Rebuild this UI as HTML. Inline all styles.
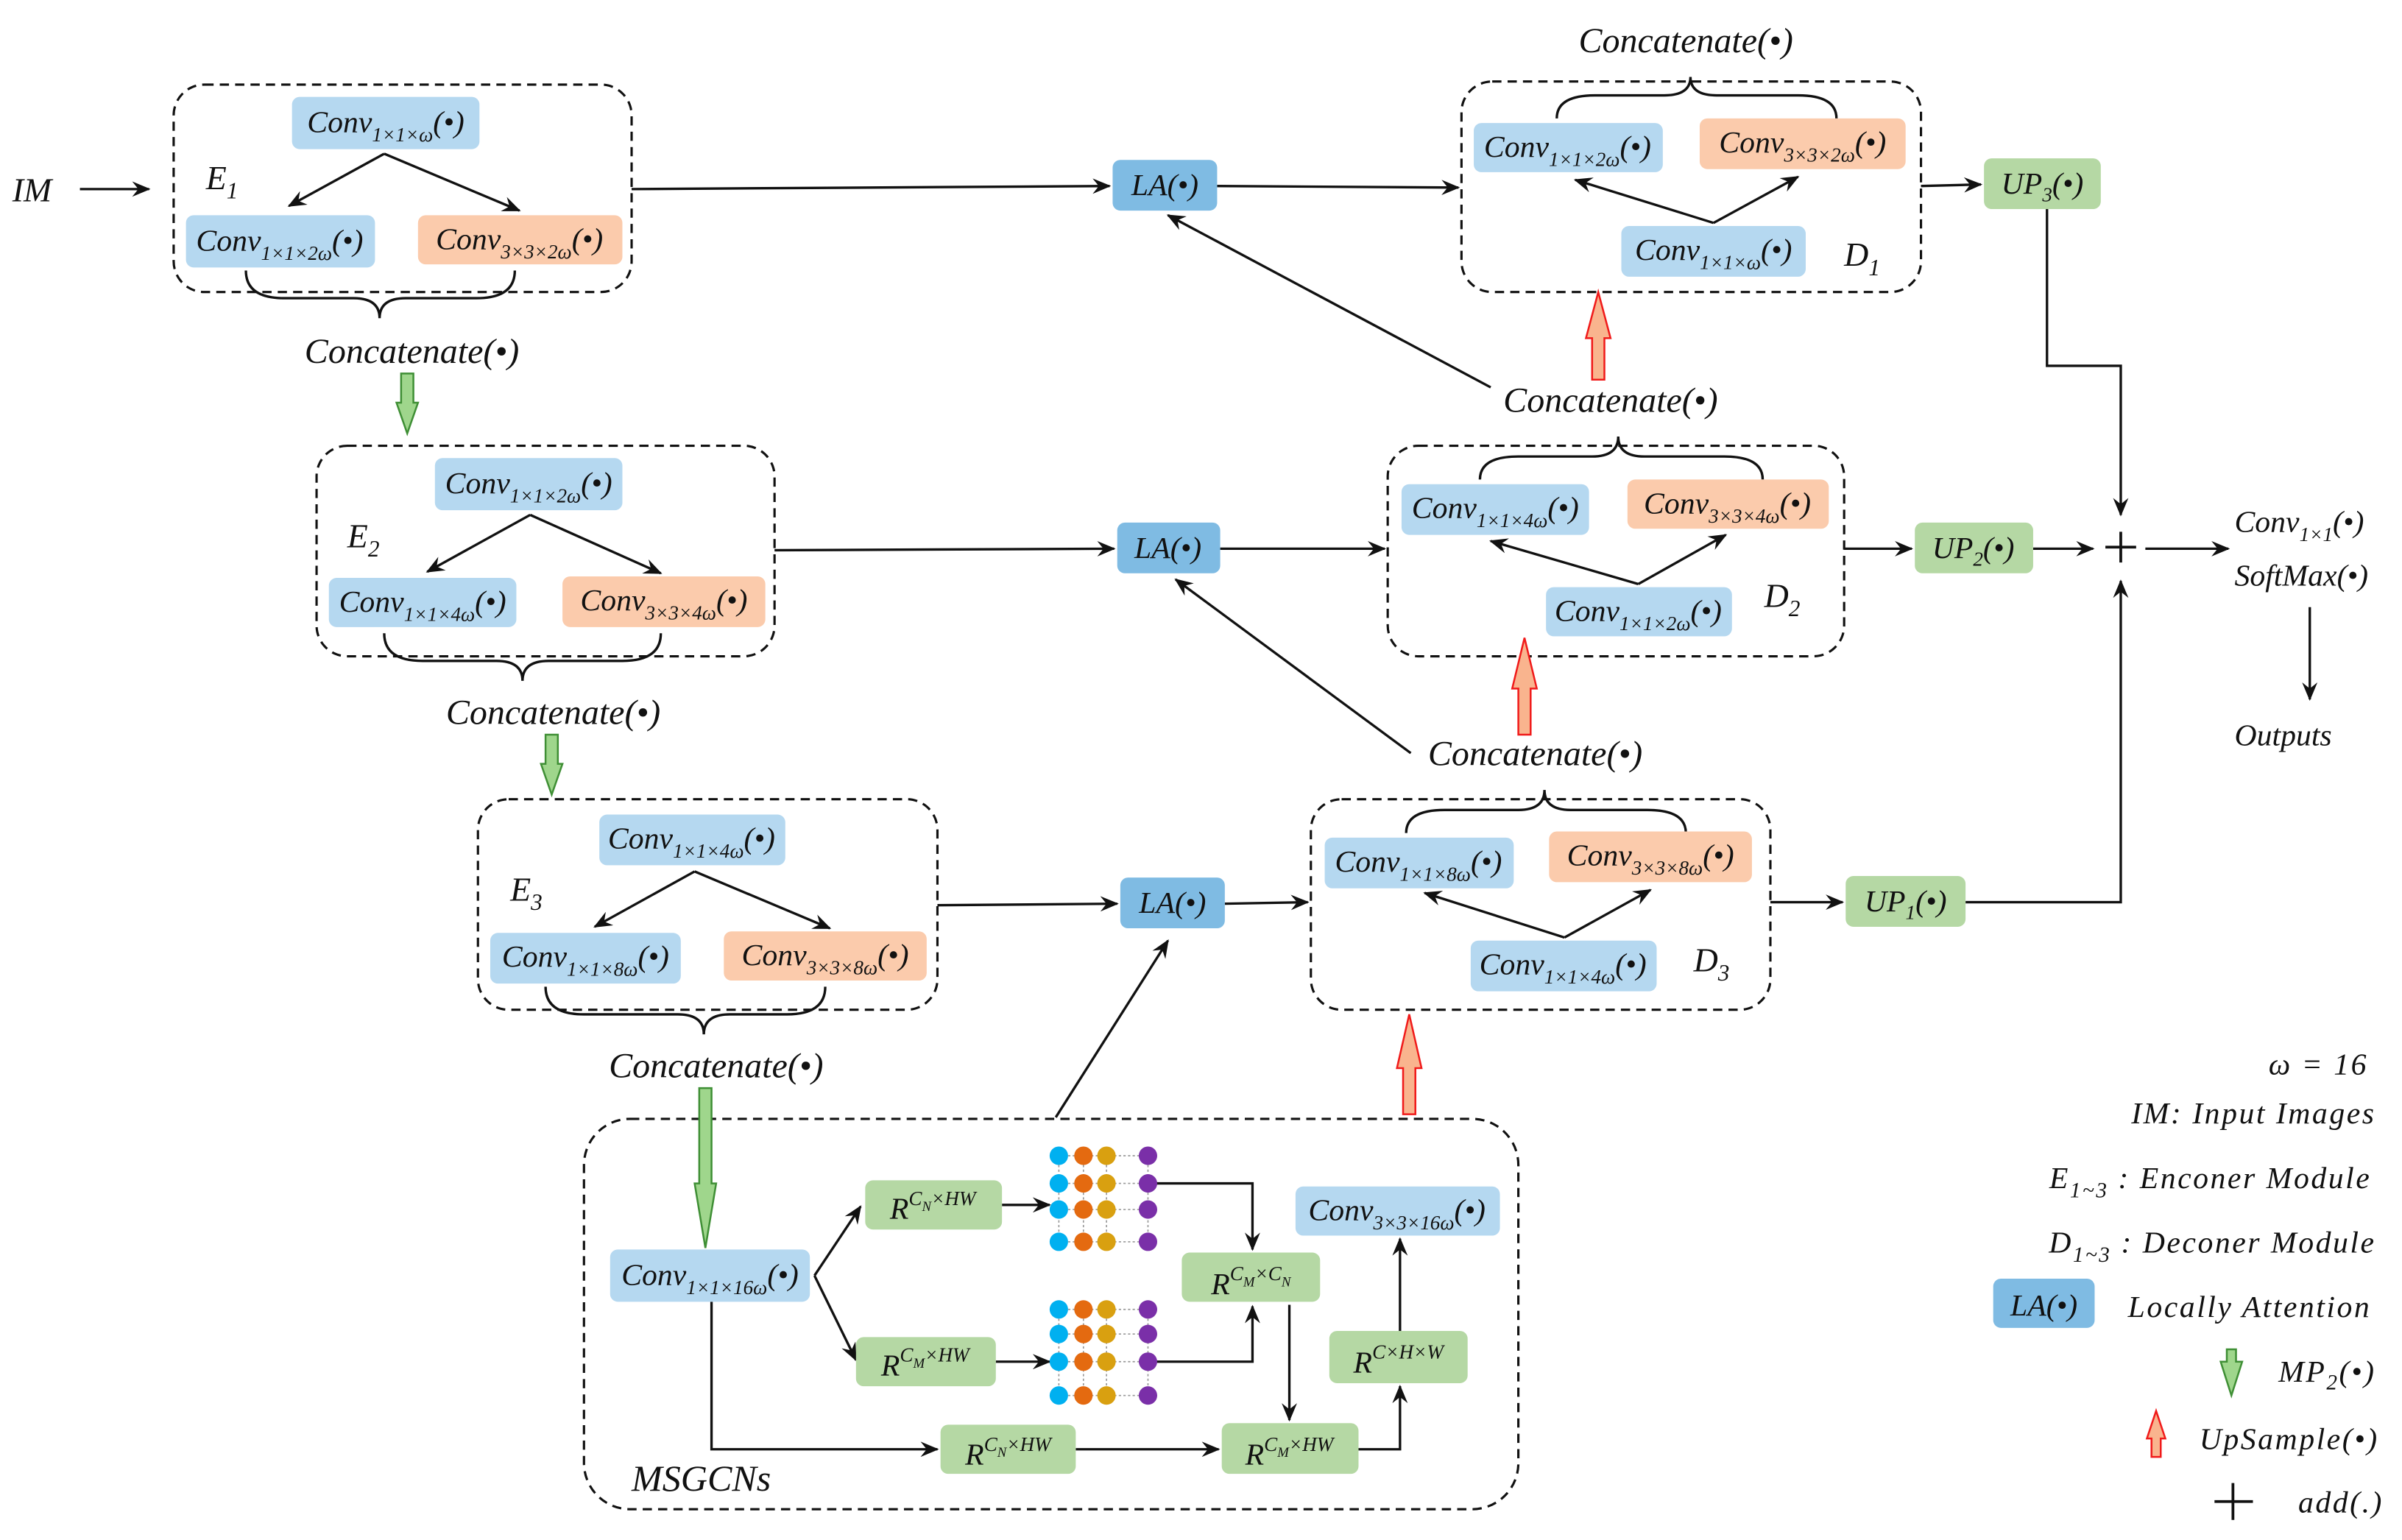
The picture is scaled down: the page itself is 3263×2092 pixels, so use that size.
<!DOCTYPE html>
<html><head><meta charset="utf-8"><style>
html,body{margin:0;padding:0;background:#fff;}
svg{display:block;}
text{font-family:"Liberation Serif",serif;font-style:italic;fill:#111;}
.s{font-size:13px;}
</style></head><body>
<svg width="3263" height="2092" viewBox="0 0 1563 1002" xmlns="http://www.w3.org/2000/svg">
<defs>
<marker id="a" viewBox="0 0 12 10" refX="11" refY="5" markerWidth="12" markerHeight="10" markerUnits="userSpaceOnUse" orient="auto"><path d="M0,0 L12,5 L0,10 L4,5 Z" fill="#111"/></marker>
</defs>
<g fill="none" stroke="#111" stroke-width="1.6">
<g stroke-dasharray="6,4" stroke-width="1.5">
<rect x="113" y="55" width="298" height="135" rx="20"/>
<rect x="206" y="290" width="298" height="137" rx="20"/>
<rect x="311" y="520" width="299" height="137" rx="20"/>
<rect x="951" y="53" width="299" height="137" rx="20"/>
<rect x="903" y="290" width="297" height="137" rx="20"/>
<rect x="853" y="520" width="299" height="137" rx="20"/>
<rect x="380" y="728" width="608" height="254" rx="30"/>
</g>
<path d="M160,176 Q160,194 185,194 L230,194 Q247,194 247,207 Q247,194 264,194 L310,194 Q335,194 335,176"/>
<path d="M250,412 Q250,430 275,430 L323,430 Q340,430 340,443 Q340,430 357,430 L405,430 Q430,430 430,412"/>
<path d="M355,642 Q355,660 380,660 L441,660 Q458,660 458,673 Q458,660 475,660 L512,660 Q537,660 537,642"/>
<path d="M1013,77 Q1013,62 1038,62 L1083,62 Q1100,62 1100,50 Q1100,62 1117,62 L1170,62 Q1195,62 1195,77"/>
<path d="M963,312 Q963,297 988,297 L1036,297 Q1053,297 1053,284 Q1053,297 1070,297 L1122,297 Q1147,297 1147,312"/>
<path d="M915,542 Q915,527 940,527 L988,527 Q1005,527 1005,514 Q1005,527 1022,527 L1072,527 Q1097,527 1097,542"/>
<g marker-end="url(#a)">
<path d="M52,123 L97,123"/>
<path d="M250,100 L188,134"/><path d="M250,100 L338,137"/>
<path d="M345,335 L278,372"/><path d="M345,335 L430,373"/>
<path d="M452,567 L387,603"/><path d="M452,567 L540,604"/>
<path d="M1115,145 L1025,117"/><path d="M1115,145 L1170,115"/>
<path d="M1066,380 L970,352"/><path d="M1066,380 L1123,348"/>
<path d="M1018,610 L927,581"/><path d="M1018,610 L1074,579"/>
<path d="M411,123 L722,121"/>
<path d="M792,121 L949,122"/>
<path d="M504,358 L725,357"/>
<path d="M794,357 L901,357"/>
<path d="M610,589 L727,588"/>
<path d="M797,588 L851,587"/>
<path d="M1250,121 L1289,120"/>
<path d="M1200,357 L1244,357"/>
<path d="M1152,587 L1199,587"/>
<path d="M970,252 L760,140"/>
<path d="M918,490 L765,377"/>
<path d="M687,727 L760,612"/>
<path d="M1332,136 L1332,238 L1380,238 L1380,335"/>
<path d="M1279,587 L1380,587 L1380,378"/>
<path d="M1323,357 L1362,357"/>
<path d="M1396,357 L1450,357"/>
<path d="M1503,395 L1503,455"/>
<path d="M530,830 L560,785"/>
<path d="M530,830 L557,885"/>
<path d="M652,784 L683,784"/>
<path d="M648,886 L683,886"/>
<path d="M750,770 L815,770 L815,813"/>
<path d="M750,886 L815,886 L815,850"/>
<path d="M463,847 L463,943 L610,943"/>
<path d="M700,943 L793,943"/>
<path d="M839,849 L839,924"/>
<path d="M884,943 L911,943 L911,902"/>
<path d="M911,866 L911,806"/>
</g>
<path d="M1370,356 L1390,356 M1380,346 L1380,366" stroke-width="1.8"/>
<path d="M1441,977 L1466,977 M1453,965 L1453,989" stroke-width="1.8"/>
</g>
<g fill="#9fd68c" stroke="#3f8f35" stroke-width="1.2">
<polygon points="261,243 269,243 269,262 272,262 265,282 258,262 261,262"/>
<polygon points="355,478 363,478 363,497 366,497 359,517 352,497 355,497"/>
<polygon points="455,708 463,708 463,770 466,770 459,812 452,770 455,770"/>
<polygon points="1449,878 1455,878 1455,886 1459,886 1452,908 1445,886 1449,886"/>
</g>
<g fill="#f9b48e" stroke="#f01a1a" stroke-width="1.2">
<polygon points="1036,247 1044,247 1044,220 1048,220 1040,190 1032,220 1036,220"/>
<polygon points="988,478 996,478 996,448 1000,448 992,415 984,448 988,448"/>
<polygon points="913,725 921,725 921,695 925,695 917,660 909,695 913,695"/>
<polygon points="1400,948 1406,948 1406,936 1409,936 1403,918 1397,936 1400,936"/>
</g>
<g stroke="none">
<g fill="#b5d8f0">
<rect x="190" y="63" width="122" height="34" rx="5"/>
<rect x="121" y="140" width="123" height="34" rx="5"/>
<rect x="283" y="298" width="122" height="34" rx="5"/>
<rect x="214" y="376" width="122" height="32" rx="5"/>
<rect x="390" y="530" width="121" height="33" rx="5"/>
<rect x="319" y="607" width="124" height="33" rx="5"/>
<rect x="959" y="80" width="123" height="32" rx="5"/>
<rect x="1055" y="147" width="120" height="33" rx="5"/>
<rect x="912" y="315" width="122" height="33" rx="5"/>
<rect x="1006" y="382" width="121" height="32" rx="5"/>
<rect x="862" y="545" width="123" height="33" rx="5"/>
<rect x="957" y="612" width="121" height="33" rx="5"/>
<rect x="397" y="813" width="130" height="34" rx="5"/>
<rect x="843" y="772" width="133" height="32" rx="5"/>
</g>
<g fill="#fbcbac">
<rect x="272" y="140" width="133" height="32" rx="5"/>
<rect x="366" y="375" width="132" height="33" rx="5"/>
<rect x="471" y="606" width="132" height="32" rx="5"/>
<rect x="1106" y="77" width="134" height="33" rx="5"/>
<rect x="1059" y="312" width="131" height="32" rx="5"/>
<rect x="1008" y="541" width="132" height="33" rx="5"/>
</g>
<g fill="#7fbbe3">
<rect x="724" y="104" width="68" height="33" rx="5"/>
<rect x="727" y="340" width="67" height="33" rx="5"/>
<rect x="729" y="571" width="68" height="33" rx="5"/>
<rect x="1297" y="832" width="66" height="32" rx="5"/>
</g>
<g fill="#b5d8a4">
<rect x="1291" y="103" width="76" height="33" rx="5"/>
<rect x="1246" y="340" width="77" height="33" rx="5"/>
<rect x="1201" y="570" width="78" height="33" rx="5"/>
<rect x="563" y="768" width="89" height="32" rx="5"/>
<rect x="557" y="870" width="91" height="32" rx="5"/>
<rect x="769" y="815" width="90" height="32" rx="5"/>
<rect x="865" y="866" width="90" height="34" rx="5"/>
<rect x="612" y="927" width="88" height="32" rx="5"/>
<rect x="795" y="926" width="89" height="33" rx="5"/>
</g>
</g>
<g stroke="#999" stroke-width="0.8" stroke-dasharray="1.5,1.5">
<path d="M695,752 L747,752 M695,770 L747,770 M695,787 L747,787 M695,808 L747,808 M689,752 L689,808 M705,752 L705,808 M720,752 L720,808 M747,752 L747,808"/>
<path d="M695,852 L747,852 M695,868 L747,868 M695,886 L747,886 M695,908 L747,908 M689,852 L689,908 M705,852 L705,908 M720,852 L720,908 M747,852 L747,908"/>
</g>
<g>
<g fill="#00b0f0"><circle cx="689" cy="752" r="6"/><circle cx="689" cy="770" r="6"/><circle cx="689" cy="787" r="6"/><circle cx="689" cy="808" r="6"/><circle cx="689" cy="852" r="6"/><circle cx="689" cy="868" r="6"/><circle cx="689" cy="886" r="6"/><circle cx="689" cy="908" r="6"/></g>
<g fill="#e46a10"><circle cx="705" cy="752" r="6"/><circle cx="705" cy="770" r="6"/><circle cx="705" cy="787" r="6"/><circle cx="705" cy="808" r="6"/><circle cx="705" cy="852" r="6"/><circle cx="705" cy="868" r="6"/><circle cx="705" cy="886" r="6"/><circle cx="705" cy="908" r="6"/></g>
<g fill="#d9a010"><circle cx="720" cy="752" r="6"/><circle cx="720" cy="770" r="6"/><circle cx="720" cy="787" r="6"/><circle cx="720" cy="808" r="6"/><circle cx="720" cy="852" r="6"/><circle cx="720" cy="868" r="6"/><circle cx="720" cy="886" r="6"/><circle cx="720" cy="908" r="6"/></g>
<g fill="#7a2fa8"><circle cx="747" cy="752" r="6"/><circle cx="747" cy="770" r="6"/><circle cx="747" cy="787" r="6"/><circle cx="747" cy="808" r="6"/><circle cx="747" cy="852" r="6"/><circle cx="747" cy="868" r="6"/><circle cx="747" cy="886" r="6"/><circle cx="747" cy="908" r="6"/></g>
</g>
<g font-size="20" text-anchor="middle">
<text x="251" y="86">Conv<tspan class="s" dy="6">1×1×ω</tspan><tspan dy="-6">(•)</tspan></text>
<text x="182" y="163">Conv<tspan class="s" dy="6">1×1×2ω</tspan><tspan dy="-6">(•)</tspan></text>
<text x="338" y="162">Conv<tspan class="s" dy="6">3×3×2ω</tspan><tspan dy="-6">(•)</tspan></text>
<text x="344" y="321">Conv<tspan class="s" dy="6">1×1×2ω</tspan><tspan dy="-6">(•)</tspan></text>
<text x="275" y="398">Conv<tspan class="s" dy="6">1×1×4ω</tspan><tspan dy="-6">(•)</tspan></text>
<text x="432" y="397">Conv<tspan class="s" dy="6">3×3×4ω</tspan><tspan dy="-6">(•)</tspan></text>
<text x="450" y="552">Conv<tspan class="s" dy="6">1×1×4ω</tspan><tspan dy="-6">(•)</tspan></text>
<text x="381" y="629">Conv<tspan class="s" dy="6">1×1×8ω</tspan><tspan dy="-6">(•)</tspan></text>
<text x="537" y="628">Conv<tspan class="s" dy="6">3×3×8ω</tspan><tspan dy="-6">(•)</tspan></text>
<text x="1020" y="102">Conv<tspan class="s" dy="6">1×1×2ω</tspan><tspan dy="-6">(•)</tspan></text>
<text x="1173" y="99">Conv<tspan class="s" dy="6">3×3×2ω</tspan><tspan dy="-6">(•)</tspan></text>
<text x="1115" y="169">Conv<tspan class="s" dy="6">1×1×ω</tspan><tspan dy="-6">(•)</tspan></text>
<text x="973" y="337">Conv<tspan class="s" dy="6">1×1×4ω</tspan><tspan dy="-6">(•)</tspan></text>
<text x="1124" y="334">Conv<tspan class="s" dy="6">3×3×4ω</tspan><tspan dy="-6">(•)</tspan></text>
<text x="1066" y="404">Conv<tspan class="s" dy="6">1×1×2ω</tspan><tspan dy="-6">(•)</tspan></text>
<text x="923" y="567">Conv<tspan class="s" dy="6">1×1×8ω</tspan><tspan dy="-6">(•)</tspan></text>
<text x="1074" y="563">Conv<tspan class="s" dy="6">3×3×8ω</tspan><tspan dy="-6">(•)</tspan></text>
<text x="1017" y="634">Conv<tspan class="s" dy="6">1×1×4ω</tspan><tspan dy="-6">(•)</tspan></text>
<text x="462" y="836">Conv<tspan class="s" dy="6">1×1×16ω</tspan><tspan dy="-6">(•)</tspan></text>
<text x="909" y="794">Conv<tspan class="s" dy="6">3×3×16ω</tspan><tspan dy="-6">(•)</tspan></text>
<text x="758" y="127">LA(•)</text>
<text x="760" y="363">LA(•)</text>
<text x="763" y="594">LA(•)</text>
<text x="1329" y="126">UP<tspan class="s" dy="5">3</tspan><tspan dy="-5">(•)</tspan></text>
<text x="1284" y="363">UP<tspan class="s" dy="5">2</tspan><tspan dy="-5">(•)</tspan></text>
<text x="1240" y="593">UP<tspan class="s" dy="5">1</tspan><tspan dy="-5">(•)</tspan></text>
<text x="607" y="793">R<tspan class="s" dy="-9">C<tspan font-size="9" dy="4">N</tspan><tspan dy="-4">×HW</tspan></tspan></text>
<text x="602" y="895">R<tspan class="s" dy="-9">C<tspan font-size="9" dy="4">M</tspan><tspan dy="-4">×HW</tspan></tspan></text>
<text x="814" y="842">R<tspan class="s" dy="-9">C<tspan font-size="9" dy="4">M</tspan><tspan dy="-4">×C</tspan><tspan font-size="9" dy="4">N</tspan></tspan></text>
<text x="910" y="893">R<tspan class="s" dy="-9">C×H×W</tspan></text>
<text x="656" y="953">R<tspan class="s" dy="-9">C<tspan font-size="9" dy="4">N</tspan><tspan dy="-4">×HW</tspan></tspan></text>
<text x="839" y="953">R<tspan class="s" dy="-9">C<tspan font-size="9" dy="4">M</tspan><tspan dy="-4">×HW</tspan></tspan></text>
</g>
<g font-size="23" text-anchor="middle">
<text x="268" y="236">Concatenate(•)</text>
<text x="360" y="471">Concatenate(•)</text>
<text x="466" y="701">Concatenate(•)</text>
<text x="1097" y="34">Concatenate(•)</text>
<text x="1048" y="268">Concatenate(•)</text>
<text x="999" y="498">Concatenate(•)</text>
</g>
<g font-size="22">
<text x="8" y="131">IM</text>
<text x="134" y="123">E<tspan font-size="15" dy="6">1</tspan></text>
<text x="226" y="356">E<tspan font-size="15" dy="6">2</tspan></text>
<text x="332" y="586">E<tspan font-size="15" dy="6">3</tspan></text>
<text x="1200" y="173">D<tspan font-size="15" dy="6">1</tspan></text>
<text x="1148" y="395">D<tspan font-size="15" dy="6">2</tspan></text>
<text x="1102" y="632">D<tspan font-size="15" dy="6">3</tspan></text>
<text x="411" y="970" font-size="24">MSGCNs</text>
</g>
<g font-size="20">
<text x="1454" y="346">Conv<tspan class="s" dy="6">1×1</tspan><tspan dy="-6">(•)</tspan></text>
<text x="1454" y="381">SoftMax(•)</text>
<text x="1454" y="485">Outputs</text>
</g>
<g font-size="20" text-anchor="end" letter-spacing="1.2">
<text x="1541" y="699" font-style="normal">ω = 16</text>
<text x="1546" y="731">IM: Input Images</text>
<text x="1543" y="773">E<tspan font-size="14" dy="6">1~3</tspan><tspan dy="-6"> : Enconer Module</tspan></text>
<text x="1546" y="815">D<tspan font-size="14" dy="6">1~3</tspan><tspan dy="-6"> : Deconer Module</tspan></text>
<text x="1543" y="857">Locally Attention</text>
<text x="1546" y="899">MP<tspan font-size="14" dy="5">2</tspan><tspan dy="-5">(•)</tspan></text>
<text x="1548" y="943">UpSample(•)</text>
<text x="1551" y="984">add(.)</text>
</g>
<text x="1330" y="856" font-size="20" text-anchor="middle">LA(•)</text>
</svg>
</body></html>
